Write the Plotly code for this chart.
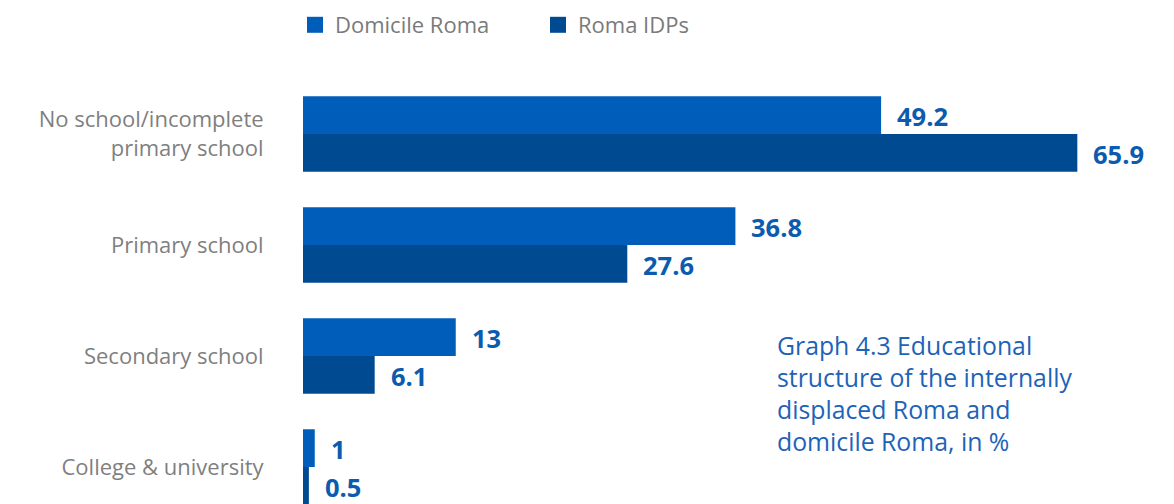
import plotly.graph_objects as go

categories = ["No school/incomplete<br>primary school", "Primary school", "Secondary school", "College & university"]
domicile_roma = [49.2, 36.8, 13, 1]
roma_idps = [65.9, 27.6, 6.1, 0.5]
series_names = ["Domicile Roma", "Roma IDPs"]
colors = ["#005EBA", "#004A92"]
note_lines = ["Graph 4.3 Educational", "structure of the internally", "displaced Roma and", "domicile Roma, in %"]

# the page body has an 8px margin; layout below compensates for it
BODY = 8
W, H = 1174, 504
ML = 303 - BODY
PW = W - ML
PX_PER_UNIT = 11.75


def px(page_x):
    return (page_x - 303) / PW


def py(page_y):
    return 1 - (page_y - BODY) / H


ypos = list(range(len(categories)))
fig = go.Figure()
for name, vals, col in zip(series_names, [domicile_roma, roma_idps], colors):
    fig.add_trace(go.Bar(
        y=ypos, x=vals, orientation="h", name=name, showlegend=False,
        marker=dict(color=col, line=dict(width=0)),
        hoverinfo="skip",
    ))
for name, col in zip(series_names, colors):
    fig.add_trace(go.Scatter(
        x=[None], y=[None], mode="markers", name=name,
        marker=dict(symbol="square", size=21, color=col),
    ))

annotations = []
offsets = [-0.17, 0.17]
for vals, off in zip([domicile_roma, roma_idps], offsets):
    for i, v in enumerate(vals):
        annotations.append(dict(
            x=v, y=i + off, xref="x", yref="y", text="<b>%g</b>" % v,
            showarrow=False, xanchor="left", yanchor="middle", xshift=14, yshift=-1,
            font=dict(family="Open Sans", size=25.5, color="#0B5BAE"),
        ))
for k, line in enumerate(note_lines):
    annotations.append(dict(
        x=px(775), y=py(345 + 32 * k), xref="paper", yref="paper",
        text=line, showarrow=False, xanchor="left", yanchor="middle", align="left",
        font=dict(family="Open Sans", size=24.8, color="#1D63B8"),
    ))

fig.update_layout(
    width=W, height=H,
    margin=dict(l=ML, r=0, t=0, b=0, autoexpand=False),
    plot_bgcolor="white", paper_bgcolor="white",
    barmode="group", bargap=0.32, bargroupgap=0,
    showlegend=True,
    legend=dict(orientation="h", x=px(295), y=py(25), xanchor="left", yanchor="middle",
                font=dict(family="Open Sans", size=22, color="#7A7A7A"),
                itemsizing="trace", tracegroupgap=0,
                entrywidthmode="pixels", entrywidth=198),
    xaxis=dict(range=[0, PW / PX_PER_UNIT], showgrid=False, zeroline=False, showticklabels=False,
               showline=False, ticks=""),
    yaxis=dict(range=[(H + BODY - 134) / 111, (BODY - 134) / 111], tickvals=ypos, ticktext=categories,
               showgrid=False, zeroline=False, showline=False, ticks="outside",
               ticklen=34, tickcolor="rgba(0,0,0,0)",
               tickfont=dict(family="Open Sans", size=22, color="#7F7F7F")),
    annotations=annotations,
)

fig.write_html("out.html")
